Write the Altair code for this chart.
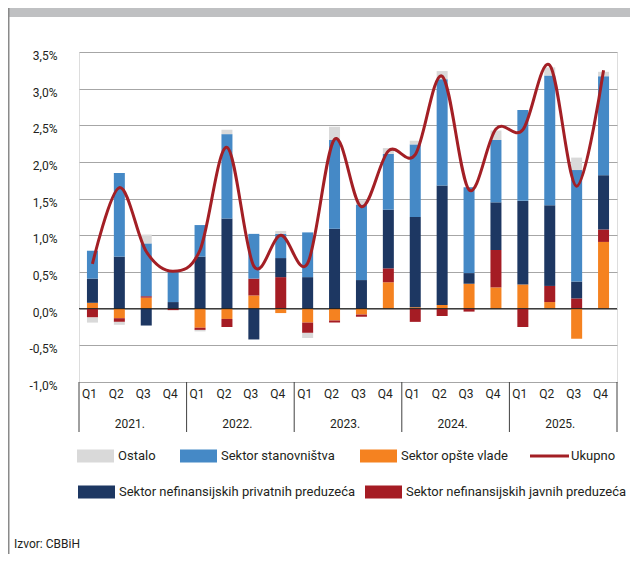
import altair as alt
import pandas as pd

# ---------------- data ----------------
years = ["2021", "2022", "2023", "2024", "2025"]
quarters = ["Q1", "Q2", "Q3", "Q4"]
keys = [f"{y} {q}" for y in years for q in quarters]

series_names = [
    "Sektor opšte vlade",
    "Sektor nefinansijskih javnih preduzeća",
    "Sektor nefinansijskih privatnih preduzeća",
    "Sektor stanovništva",
    "Ostalo",
]
series_colors = ["#f58220", "#a51c24", "#1d3762", "#4589c6", "#d9d9d9"]

opste_vlade = [0.08, -0.13, 0.15, 0.00,
               -0.26, -0.14, 0.18, -0.06,
               -0.19, -0.16, -0.08, 0.36,
               0.02, 0.05, 0.34, 0.29,
               0.33, 0.09, -0.41, 0.91]
javna = [-0.12, -0.05, 0.02, -0.02,
         -0.03, -0.11, 0.23, 0.43,
         -0.14, -0.03, -0.03, 0.19,
         -0.18, -0.10, -0.04, 0.51,
         -0.25, 0.22, 0.14, 0.17]
privatna = [0.33, 0.71, -0.23, 0.09,
            0.71, 1.23, -0.42, 0.26,
            0.43, 1.09, 0.39, 0.80,
            1.23, 1.63, 0.145, 0.65,
            1.14, 1.10, 0.23, 0.74]
stanovnistvo = [0.38, 1.14, 0.72, 0.43,
                0.43, 1.15, 0.61, 0.33,
                0.61, 1.21, 1.03, 0.76,
                0.99, 1.45, 1.17, 0.85,
                1.24, 1.77, 1.52, 1.35]
ostalo = [-0.07, -0.04, 0.12, 0.00,
          -0.02, 0.06, 0.00, 0.04,
          -0.07, 0.18, 0.06, 0.08,
          0.05, 0.11, 0.00, 0.13,
          0.00, 0.11, 0.17, 0.06]
ukupno = [0.61, 1.65, 0.78, 0.51,
          0.80, 2.20, 0.58, 1.00,
          0.62, 2.31, 1.39, 2.15,
          2.10, 3.17, 1.62, 2.45,
          2.44, 3.32, 1.67, 3.25]

y_ticks = [-1.0, -0.5, 0.0, 0.5, 1.0, 1.5, 2.0, 2.5, 3.0, 3.5]
source_text = "Izvor: CBBiH"

series_values = [opste_vlade, javna, privatna, stanovnistvo, ostalo]
rows = []
for si, (name, vals) in enumerate(zip(series_names, series_values)):
    for k, v in zip(keys, vals):
        rows.append({"key": k, "series": name, "value": v, "ord": si})
bars_df = pd.DataFrame(rows)
line_df = pd.DataFrame({"key": keys, "value": ukupno})
year_df = pd.DataFrame({"key": [f"{y} Q3" for y in years], "label": [f"{y}." for y in years]})
sep_df = pd.DataFrame({"key": [f"{y} Q1" for y in years]})
last_df = pd.DataFrame({"key": [keys[-1]]})
zero_df = pd.DataFrame({"v": [0.0]})
dummy = pd.DataFrame({"a": [0]})

# ---------------- layout ----------------
W, H = 538, 330
PAD_L, PAD_T, PAD_R, PAD_B = 71, 44, 13, 172
FONT = "Roboto"
TXT = "#231f20"

xscale = alt.Scale(domain=keys, paddingInner=0, paddingOuter=0)
yscale = alt.Scale(domain=[-1.0, 3.5], nice=False)

x_axis = alt.Axis(
    title=None, labelExpr="split(datum.value, ' ')[1]", labelAngle=0,
    ticks=False, domain=False, grid=False, labelPadding=6, labelOffset=-3,
    labelFontSize=12, labelColor=TXT, labelFont=FONT, labelOverlap=False,
)
y_axis = alt.Axis(
    title=None, values=y_ticks, grid=True, gridColor="#a6a6a6", gridWidth=1,
    ticks=False, domain=False, labelPadding=22, labelOffset=3.5,
    labelFontSize=12, labelColor=TXT, labelFont=FONT, labelOverlap=False,
    labelExpr="replace(replace(format(datum.value, '.1f'), '.', ','), '\u2212', '-') + '%'",
)


def X(band):
    return alt.X("key:N", scale=xscale, axis=x_axis, sort=keys, bandPosition=band)


def Y(field):
    return alt.Y(field, scale=yscale, axis=y_axis)


bars = alt.Chart(bars_df).mark_bar(width=11).encode(
    x=alt.X("key:N", scale=xscale, axis=x_axis, sort=keys),
    y=alt.Y("value:Q", scale=yscale, axis=y_axis, stack="zero"),
    color=alt.Color("series:N", scale=alt.Scale(domain=series_names, range=series_colors), legend=None),
    order=alt.Order("ord:Q"),
)

zero = alt.Chart(zero_df).mark_rule(color="#1a1a1a", strokeWidth=1).encode(y=Y("v:Q"))

line = alt.Chart(line_df).mark_line(interpolate="cardinal", color="#a31f25", strokeWidth=3).encode(
    x=X(0.5), y=Y("value:Q"),
)

seps = alt.Chart(sep_df).mark_rule(color="#404040", strokeWidth=1).encode(
    x=X(0), y=alt.value(H), y2=alt.value(H + 50),
)
sep_last = alt.Chart(last_df).mark_rule(color="#404040", strokeWidth=1).encode(
    x=X(1), y=alt.value(H), y2=alt.value(H + 50),
)
year_text = alt.Chart(year_df).mark_text(
    fontSize=12, font=FONT, color=TXT, baseline="middle", align="center", dx=-3
).encode(
    x=X(0), y=alt.value(H + 42), text="label:N",
)

layers = [bars, zero, line, seps, sep_last, year_text]

# decorations: top grey band and left border line
layers.append(alt.Chart(dummy).mark_rect(color="#bfc0c2").encode(
    x=alt.value(-PAD_L), x2=alt.value(W + PAD_R), y=alt.value(-PAD_T), y2=alt.value(-PAD_T + 9)))
layers.append(alt.Chart(dummy).mark_rule(color="#8a8a8a", strokeWidth=1.5).encode(
    x=alt.value(-PAD_L + 0.75), y=alt.value(-PAD_T), y2=alt.value(H + PAD_B)))

# manual legend
legend_items = [
    ("Ostalo", "#d9d9d9", "rect", -2, 404),
    ("Sektor stanovništva", "#4589c6", "rect", 101, 404),
    ("Sektor opšte vlade", "#f58220", "rect", 281, 404),
    ("Ukupno", "#a31f25", "line", 451, 404),
    ("Sektor nefinansijskih privatnih preduzeća", "#1d3762", "rect", -1, 440),
    ("Sektor nefinansijskih javnih preduzeća", "#a51c24", "rect", 286, 440),
]
for name, col, kind, lx, ly in legend_items:
    if kind == "rect":
        layers.append(alt.Chart(dummy).mark_rect(color=col).encode(
            x=alt.value(lx), x2=alt.value(lx + 37), y=alt.value(ly - 6.5), y2=alt.value(ly + 6.5)))
    else:
        layers.append(alt.Chart(dummy).mark_rule(color=col, strokeWidth=3).encode(
            x=alt.value(lx), x2=alt.value(lx + 39), y=alt.value(ly)))
    layers.append(alt.Chart(dummy).mark_text(
        fontSize=13, font=FONT, color=TXT, align="left", baseline="middle"
    ).encode(x=alt.value(lx + 41), y=alt.value(ly), text=alt.value(name)))

layers.append(alt.Chart(dummy).mark_text(
    fontSize=12, font=FONT, color=TXT, align="left", baseline="middle"
).encode(x=alt.value(-65), y=alt.value(492), text=alt.value(source_text)))

chart = alt.layer(*layers).properties(
    width=W, height=H,
    autosize=alt.AutoSizeParams(type="none"),
    padding={"left": PAD_L, "top": PAD_T, "right": PAD_R, "bottom": PAD_B},
).configure_view(stroke="#404040", strokeWidth=1).configure(background="white")

chart.save("out.html", embed_options={"renderer": "svg", "actions": False})
